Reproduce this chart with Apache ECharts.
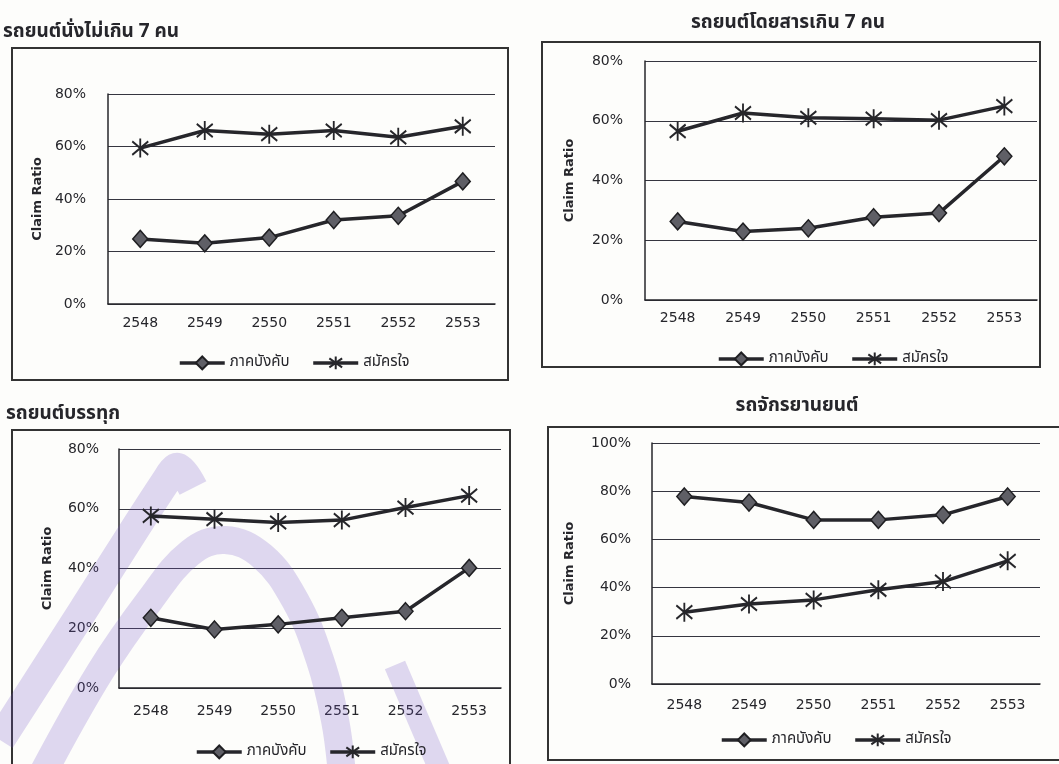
<!DOCTYPE html>
<html>
<head>
<meta charset="utf-8">
<style>
  html, body { margin: 0; padding: 0; background: #fdfdfb; }
  #chart { width: 1059px; height: 764px; }
</style>
<script src="https://cdn.jsdelivr.net/npm/echarts@6/dist/echarts.min.js"></script>
</head>
<body>
<div id="chart"></div>
<script>
// Claim ratio by vehicle type, fiscal years 2548-2553 (B.E.)
const years = ['2548', '2549', '2550', '2551', '2552', '2553'];
const seriesNames = ['ภาคบังคับ', 'สมัครใจ'];
const panelTitles = ['รถยนต์นั่งไม่เกิน 7 คน', 'รถยนต์โดยสารเกิน 7 คน', 'รถยนต์บรรทุก', 'รถจักรยานยนต์'];
const yAxisTitle = 'Claim Ratio';
const yAxisMax = [80, 80, 80, 100];
const yAxisStep = 20;

// Passenger cars (max 7 seats)
const carCompulsory = [24.8, 23.1, 25.3, 32.0, 33.6, 46.7];
const carVoluntary = [59.4, 66.1, 64.7, 66.1, 63.5, 67.7];
// Passenger vans / buses (over 7 seats)
const busCompulsory = [26.3, 22.9, 24.0, 27.7, 29.1, 48.1];
const busVoluntary = [56.5, 62.6, 61.0, 60.7, 60.2, 64.9];
// Trucks
const truckCompulsory = [23.5, 19.6, 21.3, 23.5, 25.7, 40.2];
const truckVoluntary = [57.6, 56.5, 55.4, 56.2, 60.4, 64.4];
// Motorcycles
const motoCompulsory = [77.8, 75.3, 68.1, 68.1, 70.2, 77.8];
const motoVoluntary = [29.8, 33.2, 34.9, 39.1, 42.5, 51.1];

const panelData = [
  [carCompulsory, carVoluntary],
  [busCompulsory, busVoluntary],
  [truckCompulsory, truckVoluntary],
  [motoCompulsory, motoVoluntary]
];

// Placement of each panel on the page
const layout = [
  { grid: { left: 108, top: 94, width: 387, height: 210 }, box: [12, 48, 496, 332],
    title: { left: 3, top: 24, textAlign: 'left' }, nameGap: 64, xMargin: 12, yMargin: 22,
    legend: { left: 173, top: 349 } },
  { grid: { left: 645, top: 61, width: 392, height: 239 }, box: [542, 42, 498, 325],
    title: { left: 788, top: 15, textAlign: 'center' }, nameGap: 69, xMargin: 11, yMargin: 22,
    legend: { left: 712, top: 345 } },
  { grid: { left: 119, top: 449, width: 382, height: 239 }, box: [12, 430, 498, 345],
    title: { left: 6, top: 406, textAlign: 'left' }, nameGap: 65, xMargin: 16, yMargin: 20,
    legend: { left: 190, top: 738 } },
  { grid: { left: 652, top: 443, width: 388, height: 241 }, box: [548, 427, 530, 333],
    title: { left: 797, top: 398, textAlign: 'center' }, nameGap: 76, xMargin: 14, yMargin: 21,
    legend: { left: 715, top: 726 } }
];

const ink = '#26262b';
const numFont = "'DejaVu Sans', sans-serif";
const thaiFont = "'Noto Sans Thai', 'Noto Sans', 'DejaVu Sans', sans-serif";
const asterisk = 'path://M0,-10L0,10M-7.07,-7.07L7.07,7.07M-7.07,7.07L7.07,-7.07';

const grids = [], xAxes = [], yAxes = [], series = [], titles = [], legends = [], boxes = [];

layout.forEach((p, i) => {
  grids.push(p.grid);
  titles.push({
    text: panelTitles[i], left: p.title.left, top: p.title.top, textAlign: p.title.textAlign,
    padding: 0,
    textStyle: { fontFamily: thaiFont, fontSize: 19, fontWeight: 'bold', color: ink }
  });
  xAxes.push({
    type: 'category', gridIndex: i, data: years, boundaryGap: true,
    axisLine: { lineStyle: { color: ink, width: 1.5 } },
    axisTick: { inside: true, length: 4, lineStyle: { color: ink } },
    axisLabel: { margin: p.xMargin, fontFamily: numFont, fontSize: 14, color: ink }
  });
  yAxes.push({
    type: 'value', gridIndex: i, min: 0, max: yAxisMax[i], interval: yAxisStep,
    name: yAxisTitle, nameLocation: 'middle', nameRotate: 90, nameGap: p.nameGap,
    nameTextStyle: { fontFamily: numFont, fontSize: 13, fontWeight: 'bold', color: ink },
    axisLine: { show: true, lineStyle: { color: ink, width: 1.5 } },
    axisTick: { show: false },
    axisLabel: { margin: p.yMargin, formatter: '{value}%', fontFamily: numFont, fontSize: 14, color: ink },
    splitLine: { lineStyle: { color: '#35353f', width: 1 } }
  });
  series.push({
    name: seriesNames[0], type: 'line', xAxisIndex: i, yAxisIndex: i, data: panelData[i][0],
    symbol: 'diamond', symbolSize: [15, 17],
    lineStyle: { color: ink, width: 3.5 },
    itemStyle: { color: '#5f5f66', borderColor: '#1f1f22', borderWidth: 1.5 },
    z: 3
  });
  series.push({
    name: seriesNames[1], type: 'line', xAxisIndex: i, yAxisIndex: i, data: panelData[i][1],
    symbol: asterisk, symbolSize: [16, 19],
    lineStyle: { color: ink, width: 3.5 },
    itemStyle: { color: 'none', borderColor: '#26262a', borderWidth: 2 },
    z: 3
  });
  legends.push({
    data: seriesNames, left: p.legend.left, top: p.legend.top,
    itemWidth: 45, itemHeight: 16, itemGap: 22,
    lineStyle: { color: ink, width: 3.5 },
    textStyle: { fontFamily: thaiFont, fontSize: 15, color: ink }
  });
  boxes.push({
    type: 'rect', silent: true, z: 0,
    shape: { x: p.box[0], y: p.box[1], width: p.box[2], height: p.box[3] },
    style: { fill: 'none', stroke: '#333', lineWidth: 2 }
  });
});

// Faint lavender watermark behind the lower-left panel
const wmColor = 'rgba(112, 84, 196, 0.22)';
const watermark = [
  { type: 'polyline', silent: true, z: 1,
    shape: { points: [[0, 740], [84, 609], [166, 481], [178, 468], [193, 488]], smooth: 0.35 },
    style: { fill: 'none', stroke: wmColor, lineWidth: 30, lineJoin: 'round' } },
  { type: 'polyline', silent: true, z: 1,
    shape: { points: [[42, 775], [100, 672], [150, 600], [190, 553], [225, 540], [262, 556],
                      [295, 600], [320, 660], [335, 720], [342, 775]], smooth: 0.4 },
    style: { fill: 'none', stroke: wmColor, lineWidth: 28, lineJoin: 'round' } },
  { type: 'line', silent: true, z: 1,
    shape: { x1: 395, y1: 665, x2: 442, y2: 775 },
    style: { stroke: wmColor, lineWidth: 22 } }
];

const chart = echarts.init(document.getElementById('chart'), null, { renderer: 'canvas' });
chart.setOption({
  backgroundColor: '#fdfdfb',
  animation: false,
  title: titles,
  legend: legends,
  grid: grids,
  xAxis: xAxes,
  yAxis: yAxes,
  series: series,
  graphic: boxes.concat(watermark)
});
</script>
</body>
</html>
